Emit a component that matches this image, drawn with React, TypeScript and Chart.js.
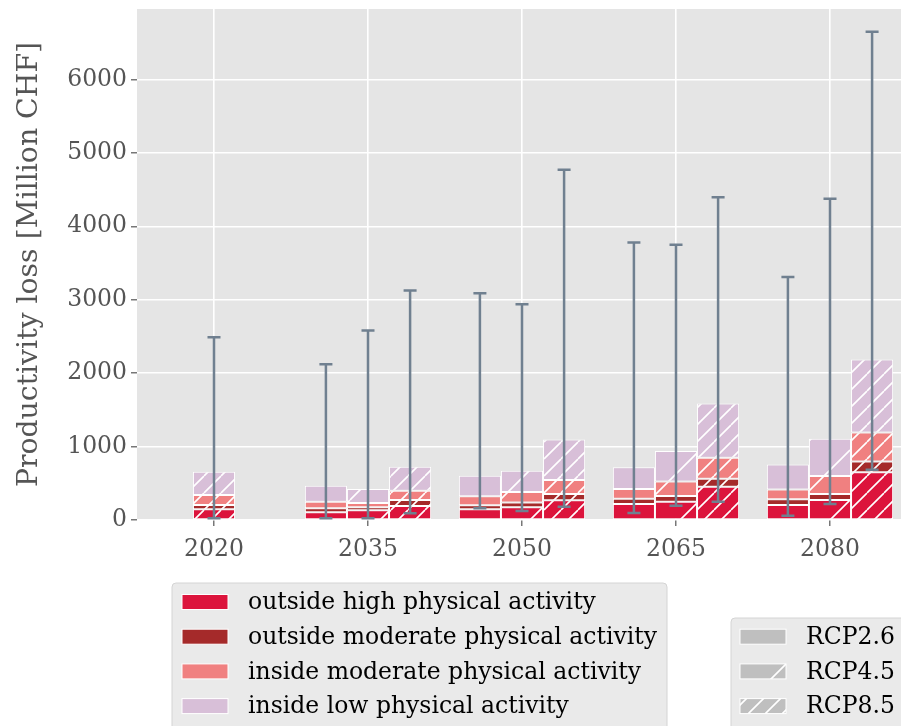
import React, { useEffect, useRef } from 'react';
import { Chart, registerables } from 'chart.js';
Chart.register(...registerables);

const years = ['2020', '2035', '2050', '2065', '2080'];
const scenarios = ['RCP2.6', 'RCP4.5', 'RCP8.5'];
const components = [
  'outside high physical activity',
  'outside moderate physical activity',
  'inside moderate physical activity',
  'inside low physical activity',
];
const componentColors = ['#DC143C', '#A52A2A', '#F08080', '#D8BFD8'];

// RCP2.6
const rcp26OutsideHigh = [null, 104, 145, 218, 204];
const rcp26OutsideModerate = [null, 55, 55, 72, 77];
const rcp26InsideModerate = [null, 90, 122, 132, 136];
const rcp26InsideLow = [null, 218, 281, 295, 340];
// RCP4.5 (2020 reference bar sits in the middle slot)
const rcp45OutsideHigh = [145, 132, 172, 249, 272];
const rcp45OutsideModerate = [60, 40, 68, 78, 82];
const rcp45InsideModerate = [135, 59, 141, 199, 245];
const rcp45InsideLow = [317, 191, 290, 413, 508];
// RCP8.5
const rcp85OutsideHigh = [null, 190, 268, 454, 649];
const rcp85OutsideModerate = [null, 82, 86, 108, 149];
const rcp85InsideModerate = [null, 127, 190, 286, 395];
const rcp85InsideLow = [null, 327, 554, 739, 993];

// error bars (total range)
const rcp26Low = [null, 25, 159, 95, 59];
const rcp26High = [null, 2120, 3090, 3780, 3310];
const rcp45Low = [25, 25, 122, 195, 218];
const rcp45High = [2490, 2580, 2940, 3750, 4375];
const rcp85Low = [null, 91, 181, 249, 685];
const rcp85High = [null, 3125, 4770, 4395, 6650];

const yTicks = [0, 1000, 2000, 3000, 4000, 5000, 6000];

const scenarioValues = [
  [rcp26OutsideHigh, rcp26OutsideModerate, rcp26InsideModerate, rcp26InsideLow],
  [rcp45OutsideHigh, rcp45OutsideModerate, rcp45InsideModerate, rcp45InsideLow],
  [rcp85OutsideHigh, rcp85OutsideModerate, rcp85InsideModerate, rcp85InsideLow],
];
const errLow = [rcp26Low, rcp45Low, rcp85Low];
const errHigh = [rcp26High, rcp45High, rcp85High];

// hatch spacing (px) per scenario; 2020 bar uses dense hatch
const hatchSpacing = [0, 50, 17];
const hatch2020 = 17;

const FONT = "'DejaVu Serif', serif";
const W = 910;
const H = 726;

function makePattern(color: string, spacing: number): any {
  if (!spacing) return color;
  const c = document.createElement('canvas');
  c.width = spacing;
  c.height = spacing;
  const g = c.getContext('2d')!;
  g.fillStyle = color;
  g.fillRect(0, 0, spacing, spacing);
  g.strokeStyle = '#ffffff';
  g.lineWidth = 1.6;
  g.beginPath();
  for (let k = -1; k <= 1; k++) {
    g.moveTo(k * spacing, spacing);
    g.lineTo(k * spacing + spacing, 0);
  }
  g.stroke();
  return g.createPattern(c, 'repeat');
}

const bgPlugin = {
  id: 'bgPlugin',
  beforeDraw(chart: any) {
    const { ctx, chartArea } = chart;
    ctx.save();
    ctx.fillStyle = '#E5E5E5';
    ctx.fillRect(chartArea.left, chartArea.top, chartArea.right - chartArea.left, chartArea.bottom - chartArea.top);
    ctx.restore();
  },
};

const errorBarPlugin = {
  id: 'errorBarPlugin',
  afterDatasetsDraw(chart: any) {
    const ctx = chart.ctx;
    const yScale = chart.scales.y;
    ctx.save();
    ctx.strokeStyle = '#708090';
    ctx.lineWidth = 2.5;
    scenarios.forEach((_, si) => {
      const meta = chart.getDatasetMeta(si * components.length);
      years.forEach((__, yi) => {
        const lo = errLow[si][yi];
        const hi = errHigh[si][yi];
        if (lo == null || hi == null) return;
        const el = meta.data[yi];
        if (!el) return;
        const x = el.x;
        const y1 = yScale.getPixelForValue(lo);
        const y2 = yScale.getPixelForValue(hi);
        ctx.beginPath();
        ctx.moveTo(x, y1);
        ctx.lineTo(x, y2);
        ctx.moveTo(x - 6.5, y1);
        ctx.lineTo(x + 6.5, y1);
        ctx.moveTo(x - 6.5, y2);
        ctx.lineTo(x + 6.5, y2);
        ctx.stroke();
      });
    });
    ctx.restore();
  },
};

function roundRect(ctx: CanvasRenderingContext2D, x: number, y: number, w: number, h: number, r: number) {
  ctx.beginPath();
  ctx.moveTo(x + r, y);
  ctx.lineTo(x + w - r, y);
  ctx.quadraticCurveTo(x + w, y, x + w, y + r);
  ctx.lineTo(x + w, y + h - r);
  ctx.quadraticCurveTo(x + w, y + h, x + w - r, y + h);
  ctx.lineTo(x + r, y + h);
  ctx.quadraticCurveTo(x, y + h, x, y + h - r);
  ctx.lineTo(x, y + r);
  ctx.quadraticCurveTo(x, y, x + r, y);
  ctx.closePath();
}

const legendPlugin = {
  id: 'legendPlugin',
  afterDraw(chart: any) {
    const ctx: CanvasRenderingContext2D = chart.ctx;
    ctx.save();
    ctx.font = `23.5px ${FONT}`;
    ctx.textBaseline = 'middle';
    ctx.textAlign = 'left';
    // components legend
    roundRect(ctx, 172, 583, 495, 180, 4);
    ctx.fillStyle = '#EAEAEA';
    ctx.fill();
    ctx.strokeStyle = '#D4D4D4';
    ctx.lineWidth = 1;
    ctx.stroke();
    const rowY = [602, 636.7, 671.4, 706.1];
    components.forEach((label, i) => {
      const cy = rowY[i];
      ctx.fillStyle = componentColors[i];
      ctx.fillRect(182, cy - 7.5, 46, 15);
      ctx.strokeStyle = '#ffffff';
      ctx.strokeRect(182, cy - 7.5, 46, 15);
      ctx.fillStyle = '#000000';
      ctx.fillText(label, 248, cy + 1);
    });
    // scenario legend
    roundRect(ctx, 731, 618, 200, 150, 4);
    ctx.fillStyle = '#EAEAEA';
    ctx.fill();
    ctx.strokeStyle = '#D4D4D4';
    ctx.stroke();
    scenarios.forEach((label, i) => {
      const cy = rowY[i + 1];
      ctx.fillStyle = makePattern('#BFBFBF', hatchSpacing[i]);
      ctx.fillRect(740, cy - 7.5, 46, 15);
      ctx.strokeStyle = '#ffffff';
      ctx.strokeRect(740, cy - 7.5, 46, 15);
      ctx.fillStyle = '#000000';
      ctx.fillText(label, 806, cy + 1);
    });
    ctx.restore();
  },
};

export default function App() {
  const ref = useRef<HTMLCanvasElement>(null);
  useEffect(() => {
    if (!ref.current) return;
    const datasets: any[] = [];
    scenarios.forEach((sc, si) => {
      components.forEach((comp, ci) => {
        datasets.push({
          label: `${comp} ${sc}`,
          data: scenarioValues[si][ci],
          stack: sc,
          backgroundColor: years.map((_, yi) =>
            makePattern(componentColors[ci], yi === 0 && si === 1 ? hatch2020 : hatchSpacing[si])
          ),
          borderColor: '#ffffff',
          borderWidth: 1,
          borderSkipped: false,
          categoryPercentage: 0.82,
          barPercentage: 1.0,
        });
      });
    });
    const chart = new Chart(ref.current, {
      type: 'bar',
      data: { labels: years, datasets },
      options: {
        animation: false,
        responsive: false,
        devicePixelRatio: 1,
        layout: { padding: { top: 9, right: 3, bottom: 156, left: 0 } },
        plugins: { legend: { display: false }, tooltip: { enabled: false } },
        scales: {
          x: {
            stacked: true,
            offset: true,
            border: { display: false },
            grid: { offset: false, color: '#ffffff', lineWidth: 1.6, tickColor: '#555555', tickLength: 6, tickWidth: 1.2 },
            ticks: { color: '#555555', font: { family: FONT, size: 23.5 }, padding: 10 },
            afterFit: (scale: any) => {
              scale.height = 50;
              scale.paddingLeft = 0;
              scale.paddingRight = 0;
            },
          },
          y: {
            stacked: true,
            min: 0,
            max: 6960,
            border: { display: false },
            grid: { color: '#ffffff', lineWidth: 1.6, tickColor: '#555555', tickLength: 6, tickWidth: 1.2 },
            afterBuildTicks: (scale: any) => {
              scale.ticks = yTicks.map((v) => ({ value: v }));
            },
            ticks: {
              color: '#555555',
              font: { family: FONT, size: 23.5 },
              padding: 4,
              autoSkip: false,
              callback: (v: any) => String(v),
            },
            title: {
              display: true,
              text: 'Productivity loss [Million CHF]',
              color: '#555555',
              font: { family: FONT, size: 28.3 },
              padding: { top: 13, bottom: 0 },
            },
            afterFit: (scale: any) => {
              scale.width = 137;
              scale.paddingTop = 0;
              scale.paddingBottom = 0;
            },
          },
        },
      },
      plugins: [bgPlugin, errorBarPlugin, legendPlugin],
    });
    return () => chart.destroy();
  }, []);
  return (
    <div style={{ position: 'absolute', left: 0, top: 0, width: 901, height: 726, overflow: 'hidden' }}>
      <canvas ref={ref} width={W} height={H} style={{ width: W, height: H, display: 'block' }} />
    </div>
  );
}
